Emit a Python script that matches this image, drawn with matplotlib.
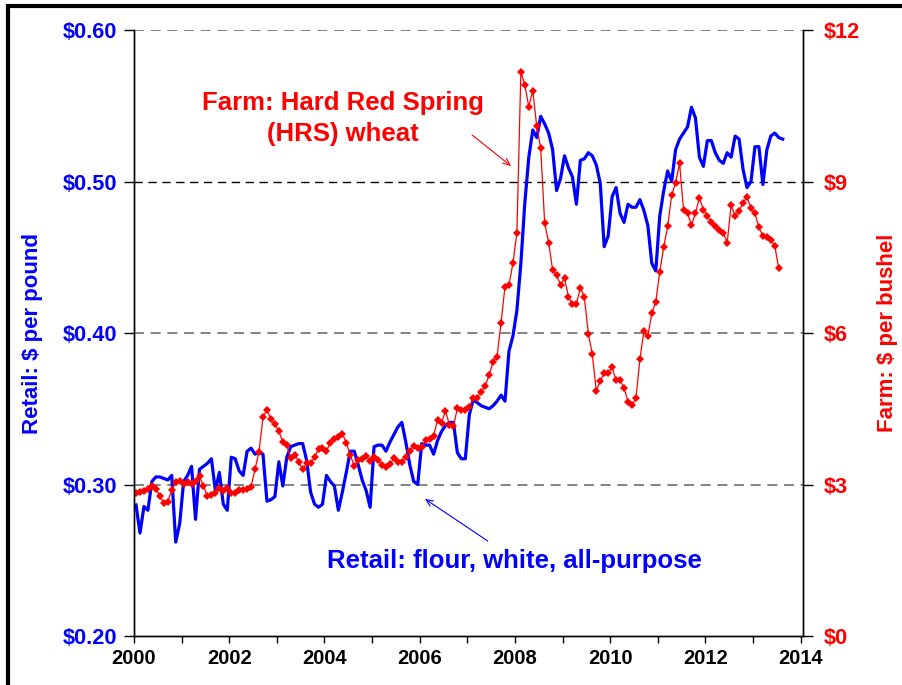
import numpy as np
import matplotlib
matplotlib.use("Agg")
import matplotlib.pyplot as plt
from matplotlib.patches import Rectangle
from matplotlib.ticker import FixedLocator, FixedFormatter, FuncFormatter


# -----------------------------
# DATA (monthly, Jan 2000 onward)
# -----------------------------

start_year = 2000

retail_flour = [
    0.2865, 0.268, 0.2855, 0.283, 0.302, 0.305, 0.305, 0.304, 0.303, 0.306, 0.262, 0.274,
    0.302, 0.306, 0.312, 0.277, 0.310, 0.312, 0.314, 0.317, 0.296, 0.308, 0.287, 0.283,
    0.318, 0.317, 0.309, 0.306, 0.322, 0.324, 0.320, 0.3215, 0.320, 0.289, 0.290, 0.292,
    0.315, 0.299, 0.318, 0.325, 0.326, 0.327, 0.327, 0.316, 0.295, 0.287, 0.285, 0.287,
    0.306, 0.302, 0.299, 0.283, 0.295, 0.308, 0.322, 0.322, 0.313, 0.303, 0.296, 0.285,
    0.325, 0.326, 0.326, 0.322, 0.328, 0.333, 0.338, 0.341, 0.328, 0.313, 0.302, 0.300,
    0.327, 0.326, 0.326, 0.320, 0.329, 0.335, 0.339, 0.341, 0.341, 0.321, 0.317, 0.317,
    0.346, 0.356, 0.354, 0.352, 0.351, 0.350, 0.352, 0.355, 0.359, 0.355, 0.388, 0.398,
    0.415, 0.446, 0.486, 0.516, 0.534, 0.529, 0.543, 0.538, 0.532, 0.521, 0.494, 0.502,
    0.517, 0.509, 0.503, 0.485, 0.514, 0.515, 0.519, 0.517, 0.511, 0.499, 0.457, 0.464,
    0.490, 0.496, 0.479, 0.473, 0.485, 0.483, 0.483, 0.488, 0.481, 0.471, 0.446, 0.441,
    0.477, 0.494, 0.507, 0.500, 0.521, 0.528, 0.532, 0.536, 0.549, 0.542, 0.516, 0.510,
    0.527, 0.527, 0.519, 0.514, 0.512, 0.519, 0.516, 0.530, 0.528, 0.508, 0.496, 0.500,
    0.523, 0.523, 0.498, 0.521, 0.530, 0.532, 0.529, 0.528,
]

farm_hrs = [
    2.83, 2.86, 2.88, 2.92, 2.97, 2.92, 2.77, 2.63, 2.66, 2.89, 3.04, 3.06,
    3.02, 3.04, 3.02, 3.06, 3.16, 2.97, 2.77, 2.79, 2.83, 2.94, 2.88, 2.94,
    2.84, 2.83, 2.89, 2.90, 2.92, 2.96, 3.30, 3.65, 4.33, 4.48, 4.29, 4.20,
    4.05, 3.85, 3.78, 3.52, 3.58, 3.45, 3.30, 3.42, 3.42, 3.54, 3.70, 3.72,
    3.67, 3.83, 3.90, 3.95, 4.01, 3.83, 3.58, 3.37, 3.49, 3.50, 3.56, 3.47,
    3.54, 3.49, 3.39, 3.34, 3.40, 3.52, 3.45, 3.45, 3.55, 3.67, 3.76, 3.72,
    3.74, 3.88, 3.91, 3.96, 4.28, 4.22, 4.46, 4.18, 4.15, 4.51, 4.48, 4.48,
    4.53, 4.72, 4.72, 4.84, 4.95, 5.17, 5.43, 5.53, 6.20, 6.92, 6.95, 7.38,
    7.99, 11.17, 10.91, 10.48, 10.80, 10.09, 9.66, 8.18, 7.79, 7.25, 7.15, 6.95,
    7.08, 6.72, 6.57, 6.57, 6.90, 6.71, 5.99, 5.58, 4.86, 5.04, 5.21, 5.21,
    5.32, 5.06, 5.06, 4.92, 4.64, 4.57, 4.71, 5.48, 6.03, 5.94, 6.39, 6.62,
    7.21, 7.70, 8.11, 8.73, 8.98, 9.36, 8.44, 8.37, 8.14, 8.37, 8.68, 8.44,
    8.32, 8.20, 8.12, 8.04, 7.99, 7.79, 8.53, 8.32, 8.42, 8.58, 8.69, 8.47,
    8.37, 8.09, 7.92, 7.90, 7.85, 7.72, 7.28,
]

year_ticks = list(range(2000, 2015))
left_ticks = [0.20, 0.30, 0.40, 0.50, 0.60]
right_ticks = [0, 3, 6, 9, 12]

# month mid-points as decimal years
t_retail = start_year + (np.arange(len(retail_flour)) + 0.5) / 12
t_farm = start_year + (np.arange(len(farm_hrs)) + 0.5) / 12


# -----------------------------
# STYLE
# -----------------------------

plt.rcParams["font.family"] = ["Liberation Sans", "DejaVu Sans"]
plt.rcParams["font.weight"] = "bold"

BLUE = "#0000FF"
RED = "#FF0000"


# -----------------------------
# FIGURE
# -----------------------------

fig = plt.figure(figsize=(9.02, 6.85), dpi=100)
ax = fig.add_axes([0.1486, 0.0715, 0.7416, 0.8847])
ax2 = ax.twinx()

# dashed reference lines
for v in [0.30, 0.40, 0.60]:
    ax.axhline(v, color="#6e6e6e", lw=1.2, ls=(0, (6, 4)), zorder=0)
ax.axhline(0.50, color="black", lw=1.0, ls=(0, (6, 4)), zorder=0)

ax.plot(t_retail, retail_flour, color=BLUE, lw=2.3, zorder=3)

ax2.plot(
    t_farm,
    farm_hrs,
    color=RED,
    lw=0.9,
    marker="D",
    markersize=3.6,
    markeredgewidth=0,
)

ax.set_xlim(2000, 2014.05)
ax.set_ylim(0.20, 0.60)
ax2.set_ylim(0, 12)

# axes / ticks
for a in (ax, ax2):
    a.spines["top"].set_visible(False)
    for s in ("left", "right", "bottom"):
        a.spines[s].set_linewidth(1.0)
        a.spines[s].set_color("black")

ax.xaxis.set_major_locator(FixedLocator(year_ticks))
ax.xaxis.set_major_formatter(
    FixedFormatter([str(y) if y % 2 == 0 else "" for y in year_ticks])
)
ax.tick_params(axis="x", direction="out", length=5, width=1, pad=4,
               labelsize=14.5, labelcolor="black")

ax.set_yticks(left_ticks)
ax.yaxis.set_major_formatter(FuncFormatter(lambda v, p: "${:.2f}".format(v)))
ax.tick_params(axis="y", direction="out", length=7, width=1, pad=5,
               labelsize=15.7, labelcolor=BLUE)

ax2.set_yticks(right_ticks)
ax2.yaxis.set_major_formatter(FuncFormatter(lambda v, p: "${:.0f}".format(v)))
ax2.tick_params(axis="y", direction="out", length=7, width=1, pad=8,
                labelsize=15.7, labelcolor=RED)

for lab in ax.get_xticklabels() + ax.get_yticklabels() + ax2.get_yticklabels():
    lab.set_fontweight("bold")

ax.set_ylabel("Retail: $ per pound", color=BLUE, fontsize=16,
              fontweight="bold", labelpad=14)
ax2.set_ylabel("Farm: $ per bushel", color=RED, fontsize=16,
               fontweight="bold", rotation=90, labelpad=12)


# -----------------------------
# ANNOTATIONS
# -----------------------------

ax.text(2004.39, 0.5415, "Farm: Hard Red Spring\n(HRS) wheat",
        color=RED, fontsize=18.5, fontweight="bold",
        ha="center", va="center", linespacing=1.4)

ax.annotate("", xy=(2007.92, 0.5102), xytext=(2007.10, 0.5307),
            arrowprops=dict(arrowstyle="->,head_length=0.5,head_width=0.22",
                            color=RED, lw=0.8, shrinkA=0, shrinkB=0))

ax.text(2007.98, 0.2497, "Retail: flour, white, all-purpose",
        color=BLUE, fontsize=18.5, fontweight="bold",
        ha="center", va="center")

ax.annotate("", xy=(2006.11, 0.2905), xytext=(2007.43, 0.2627),
            arrowprops=dict(arrowstyle="->,head_length=0.5,head_width=0.22",
                            color=BLUE, lw=0.8, shrinkA=0, shrinkB=0))

# outer frame around the chart
fig.add_artist(Rectangle((0.0089, -0.05), 1.1, 1.041, transform=fig.transFigure,
                         fill=False, lw=3, edgecolor="black", clip_on=False))

plt.savefig("out.png", dpi=100)
plt.close()
